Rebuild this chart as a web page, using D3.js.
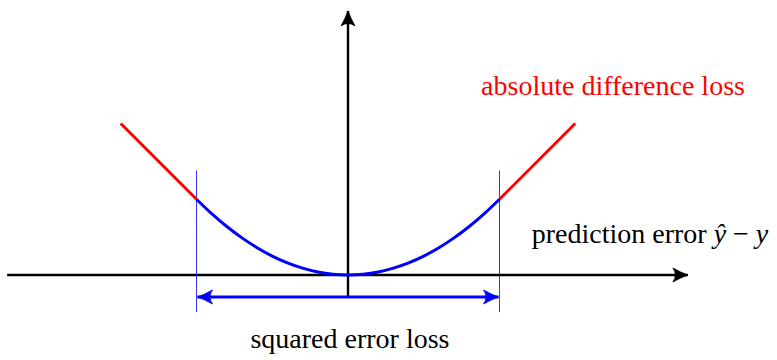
<!DOCTYPE html>
<html><head><meta charset="utf-8">
<script src="https://cdn.jsdelivr.net/npm/d3@7"></script>
<style>body{margin:0;background:#fff}svg{display:block}</style>
</head><body>
<script>
// ---- data ----
const xAxisExtent = [-2.25, 2.25];
const yAxisExtent = [-0.145, 1.75];
const quadX = [-1, -0.9, -0.8, -0.7, -0.6, -0.5, -0.4, -0.3, -0.2, -0.1, 0, 0.1, 0.2, 0.3, 0.4, 0.5, 0.6, 0.7, 0.8, 0.9, 1];
const quadY = [0.5, 0.405, 0.32, 0.245, 0.18, 0.125, 0.08, 0.045, 0.02, 0.005, 0, 0.005, 0.02, 0.045, 0.08, 0.125, 0.18, 0.245, 0.32, 0.405, 0.5];
const leftLinX = [-1.5, -1];
const leftLinY = [1.0, 0.5];
const rightLinX = [1, 1.5];
const rightLinY = [0.5, 1.0];
const deltaMarks = [-1, 1];
const deltaMarkY = [-0.245, 0.69];
const spanArrowY = -0.145;
const labels = {
  abs: "absolute difference loss",
  sq: "squared error loss"
};

// ---- drawing ----
const W = 777, H = 360;
const svg = d3.select("body").append("svg").attr("width", W).attr("height", H);
const x = d3.scaleLinear().domain([0, 1]).range([348, 499.5]);
const y = d3.scaleLinear().domain([0, 1]).range([275, 123.5]);

const defs = svg.append("defs");
function marker(id, color) {
  defs.append("marker").attr("id", id)
    .attr("markerUnits", "userSpaceOnUse")
    .attr("viewBox", "-16 -8 17 16").attr("refX", 0).attr("refY", 0)
    .attr("markerWidth", 17).attr("markerHeight", 16)
    .attr("orient", "auto-start-reverse")
    .append("path")
    .attr("d", "M0,0 Q-7,-2.5 -15,-7 Q-10,0 -15,7 Q-7,2.5 0,0 Z")
    .attr("fill", color).attr("stroke", color).attr("stroke-width", 0.8).attr("stroke-linejoin", "round");
}
marker("ab", "#000");
marker("au", "#0000ff");

const line = d3.line().x(d => x(d[0])).y(d => y(d[1]));

// axes
svg.append("line").attr("x1", x(xAxisExtent[0])).attr("x2", x(xAxisExtent[1]) - 1)
  .attr("y1", y(0)).attr("y2", y(0)).attr("stroke", "#000").attr("stroke-width", 2.4).attr("marker-end", "url(#ab)");
svg.append("line").attr("x1", x(0)).attr("x2", x(0))
  .attr("y1", y(yAxisExtent[0])).attr("y2", y(yAxisExtent[1]) + 1)
  .attr("stroke", "#000").attr("stroke-width", 2.4).attr("marker-end", "url(#ab)");

// delta marks
svg.selectAll(".dm").data(deltaMarks).enter().append("line")
  .attr("x1", d => x(d)).attr("x2", d => x(d))
  .attr("y1", y(deltaMarkY[0])).attr("y2", y(deltaMarkY[1]))
  .attr("stroke", "#0000ff").attr("stroke-width", 0.8);

// linear parts
svg.append("path").datum(d3.zip(leftLinX, leftLinY)).attr("d", line)
  .attr("fill", "none").attr("stroke", "#ff0000").attr("stroke-width", 3);
svg.append("path").datum(d3.zip(rightLinX, rightLinY)).attr("d", line)
  .attr("fill", "none").attr("stroke", "#ff0000").attr("stroke-width", 3);

// quadratic part
svg.append("path").datum(d3.zip(quadX, quadY)).attr("d", line.curve(d3.curveCatmullRom))
  .attr("fill", "none").attr("stroke", "#0000ff").attr("stroke-width", 3);

// span arrow
svg.append("line").attr("x1", x(deltaMarks[0]) + 1).attr("x2", x(deltaMarks[1]) - 1)
  .attr("y1", y(spanArrowY)).attr("y2", y(spanArrowY))
  .attr("stroke", "#0000ff").attr("stroke-width", 3)
  .attr("marker-start", "url(#au)").attr("marker-end", "url(#au)");

// labels
const font = '"Liberation Serif", serif';
function label(xp, yp, color) {
  return svg.append("text").attr("x", xp).attr("y", yp)
    .attr("text-anchor", "middle")
    .style("font-family", font).style("font-size", "28px")
    .attr("fill", color);
}
label(613, 95, "#ff0000").text(labels.abs);

const pe = label(650, 243, "#000");
pe.append("tspan").text("prediction error ");
pe.append("tspan").style("font-style", "italic").text("ŷ");
pe.append("tspan").text(" − ");
pe.append("tspan").style("font-style", "italic").text("y");

label(350, 348, "#000").text(labels.sq);
</script>
</body></html>
